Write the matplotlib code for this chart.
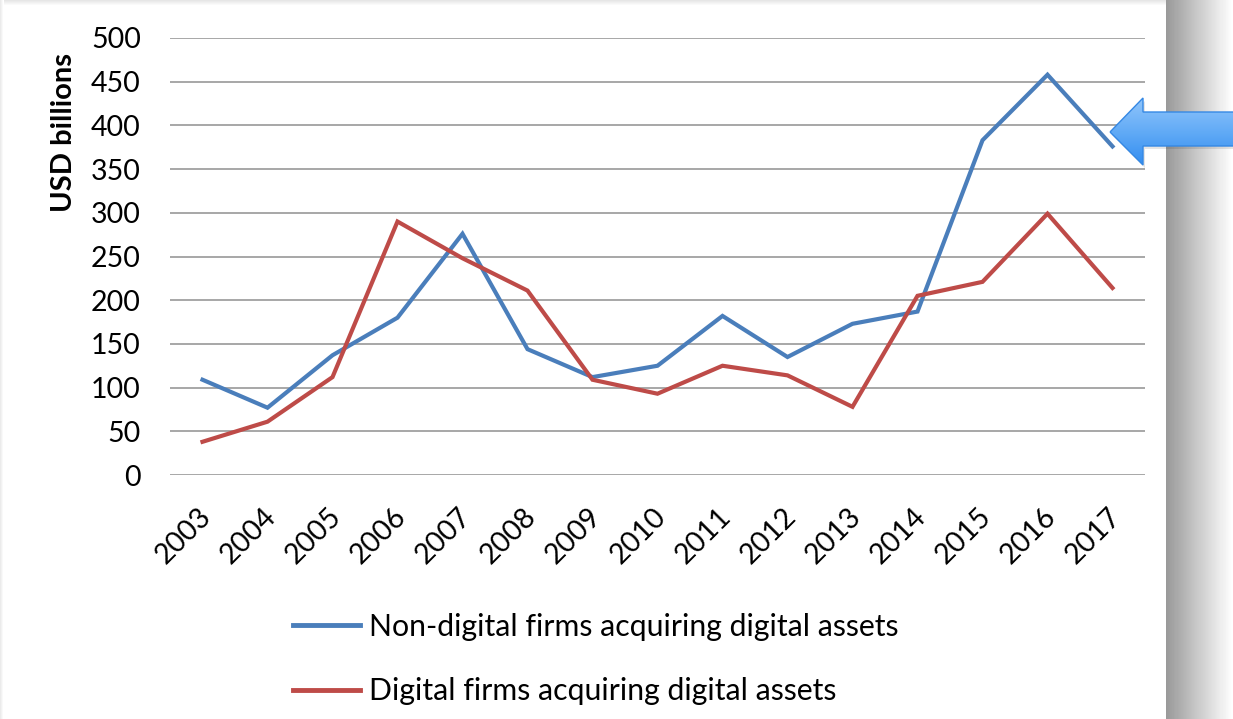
import numpy as np
import matplotlib
matplotlib.use("Agg")
import matplotlib.pyplot as plt
from matplotlib.patches import Polygon
from matplotlib.lines import Line2D
from matplotlib.colors import LinearSegmentedColormap
import matplotlib.transforms as mtransforms

years = ["2003", "2004", "2005", "2006", "2007", "2008", "2009", "2010",
         "2011", "2012", "2013", "2014", "2015", "2016", "2017"]
non_digital = [109, 77, 137, 180, 276, 144, 112, 125, 182, 135, 173, 187, 383, 458, 376]
digital = [38, 61, 112, 290, 248, 211, 109, 93, 125, 114, 78, 205, 221, 299, 214]
yticks = [0, 50, 100, 150, 200, 250, 300, 350, 400, 450, 500]
series_names = ["Non-digital firms acquiring digital assets",
                "Digital firms acquiring digital assets"]

BLUE = "#4a7ebb"
RED = "#be4b48"
FONT = ["Lato", "DejaVu Sans"]
plt.rcParams["font.family"] = FONT

W, H = 1233, 719
fig = plt.figure(figsize=(W / 100, H / 100), dpi=100, facecolor="white")

# background overlay in pixel coords
bg = fig.add_axes([0, 0, 1, 1], zorder=-5)
bg.set_xlim(0, W)
bg.set_ylim(H, 0)
bg.axis("off")
grad = np.linspace(0.60, 1.0, 64)[None, :]
bg.imshow(np.repeat(grad, 2, axis=0), cmap="gray", vmin=0, vmax=1,
          extent=[1166, W, H, 0], aspect="auto", interpolation="nearest")
topg = np.linspace(0.90, 1.0, 6)[:, None]
bg.imshow(np.repeat(topg, 2, axis=1), cmap="gray", vmin=0, vmax=1,
          extent=[0, 1166, 6, 0], aspect="auto", interpolation="bilinear")
leftg = np.linspace(0.92, 1.0, 4)[None, :]
bg.imshow(np.repeat(leftg, 2, axis=0), cmap="gray", vmin=0, vmax=1,
          extent=[0, 4, H, 0], aspect="auto", interpolation="bilinear")

# main chart axes
ax = fig.add_axes([170 / W, 1 - 475 / H, 975 / W, 437 / H])
ax.set_facecolor("none")
x = np.arange(len(years))
ax.plot(x, non_digital, color=BLUE, lw=3.0, solid_joinstyle="miter", zorder=3)
ax.plot(x, digital, color=RED, lw=3.0, solid_joinstyle="miter", zorder=3)
ax.set_xlim(-0.5, len(years) - 0.5)
ax.set_ylim(0, 500)
ax.set_yticks(yticks)
ax.set_yticklabels([str(v) for v in yticks], fontsize=20.5)
ax.grid(axis="y", color="#a0a0a0", lw=1.3)
ax.set_axisbelow(True)
for s in ax.spines.values():
    s.set_visible(False)
ax.tick_params(axis="both", length=0)
ax.tick_params(axis="y", pad=21)
ax.set_xticks(x)
ax.set_xticklabels(years, fontsize=20.5, rotation=45, ha="right", va="center",
                   rotation_mode="anchor")
ax.tick_params(axis="x", pad=27)
off = mtransforms.ScaledTranslation(4 / 100, 0, fig.dpi_scale_trans)
for lab in ax.get_xticklabels():
    lab.set_transform(lab.get_transform() + off)
ax.set_ylabel("USD billions", fontsize=21, fontweight="bold")
ax.yaxis.set_label_coords(77 / W, (H - 132) / H, transform=fig.transFigure)

# legend
handles = [Line2D([], [], color=BLUE, lw=3.5), Line2D([], [], color=RED, lw=3.5)]
fig.legend(handles, series_names, loc="upper left",
           bbox_to_anchor=(293 / W, 1 - 613 / H), frameon=False, fontsize=21.8,
           handlelength=2.2, handletextpad=0.3, labelspacing=1.2,
           borderpad=0, borderaxespad=0)

# arrow
ov = fig.add_axes([0, 0, 1, 1], zorder=10)
ov.set_xlim(0, W)
ov.set_ylim(H, 0)
ov.axis("off")
arrow_pts = [(1110, 132), (1143, 98), (1143, 112), (W + 2, 112),
             (W + 2, 146), (1143, 146), (1143, 165)]
shadow = Polygon([(px + 2, py + 3) for px, py in arrow_pts], closed=True,
                 facecolor="#000000", alpha=0.10, edgecolor="none", zorder=1)
ov.add_patch(shadow)
poly = Polygon(arrow_pts, closed=True, facecolor="none", edgecolor="#3588e4",
               lw=1.0, zorder=3)
ov.add_patch(poly)
ag = np.linspace(0, 1, 100)[:, None]
cmap = LinearSegmentedColormap.from_list("arr", ["#92c6fb", "#62abf6", "#318cf0"])
im = ov.imshow(np.repeat(ag, 2, axis=1), cmap=cmap, extent=[1105, W + 2, 166, 97],
               aspect="auto", interpolation="bilinear", zorder=2)
im.set_clip_path(poly)

fig.savefig("out.png", dpi=100, facecolor="white")
